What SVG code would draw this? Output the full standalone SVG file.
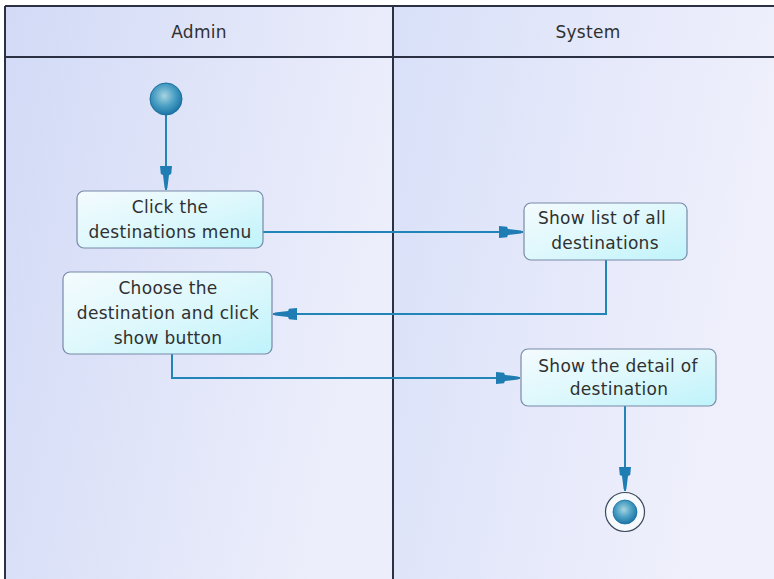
<svg xmlns="http://www.w3.org/2000/svg" width="774" height="579" viewBox="0 0 774 579">
  <defs>
    <linearGradient id="laneA" x1="0" y1="0" x2="1" y2="0.3">
      <stop offset="0" stop-color="#d2daf6"/>
      <stop offset="1" stop-color="#eceefb"/>
    </linearGradient>
    <linearGradient id="laneB" x1="0" y1="0" x2="1" y2="0.3">
      <stop offset="0" stop-color="#d8e0f8"/>
      <stop offset="1" stop-color="#f0f0fc"/>
    </linearGradient>
    <linearGradient id="actFill" x1="0" y1="0" x2="1" y2="1">
      <stop offset="0" stop-color="#f4fbfe"/>
      <stop offset="0.5" stop-color="#def8fc"/>
      <stop offset="1" stop-color="#bff3fb"/>
    </linearGradient>
    <radialGradient id="dot" cx="0.45" cy="0.4" r="0.6">
      <stop offset="0" stop-color="#a8d4e0"/>
      <stop offset="0.55" stop-color="#4a9fc4"/>
      <stop offset="1" stop-color="#1a74a6"/>
    </radialGradient>
    <marker id="head" viewBox="0 0 24 14" refX="24" refY="7" markerWidth="24" markerHeight="14" markerUnits="userSpaceOnUse" orient="auto">
      <polygon points="0,1 8,1.8 9,4 22,5.6 24,7 22,8.4 9,10 8,12.2 0,13" fill="#1f7db3"/>
    </marker>
    <style>
      .lane-line { stroke: #2b3142; stroke-width: 2; fill: none; }
      .act { fill: url(#actFill); stroke: #7989a8; stroke-width: 1.2; }
      .lbl { font-family: "DejaVu Sans", Verdana, sans-serif; font-size: 17px; letter-spacing: 0.3px; fill: #303030; text-anchor: middle; }
      .flow { stroke: #2186b7; stroke-width: 2; fill: none; marker-end: url(#head); }
    </style>
  </defs>

  <rect width="774" height="579" fill="#ffffff"/>

  <!-- swimlanes -->
  <g id="lanes">
    <rect x="5" y="6" width="388" height="573" fill="url(#laneA)"/>
    <rect x="393" y="6" width="381" height="573" fill="url(#laneB)"/>
    <path class="lane-line" d="M5 6 H774 M5 57 H774 M5 6 V579 M393 6 V579"/>
    <text id="lane-admin" class="lbl" x="199" y="37.5">Admin</text>
    <text id="lane-system" class="lbl" x="588" y="37.5">System</text>
  </g>

  <!-- connectors -->
  <g id="connectors">
    <path class="flow" d="M166 115 V190"/>
    <path class="flow" d="M263 232 H523"/>
    <path class="flow" d="M606 260 V314 H273"/>
    <path class="flow" d="M172 354 V378 H520"/>
    <path class="flow" d="M625 406 V491"/>
  </g>

  <g id="start">
    <circle cx="166" cy="99" r="16" fill="url(#dot)" stroke="#1d6f9c" stroke-width="1"/>
  </g>

  <g id="click-menu">
    <rect class="act" x="77" y="191" width="186" height="57" rx="7"/>
    <text class="lbl" x="170" y="213">Click the</text>
    <text class="lbl" x="170" y="238">destinations menu</text>
  </g>

  <g id="show-list">
    <rect class="act" x="524" y="203" width="163" height="57" rx="7"/>
    <text class="lbl" x="602" y="224">Show list of all</text>
    <text class="lbl" x="605" y="249">destinations</text>
  </g>

  <g id="choose-destination">
    <rect class="act" x="63" y="272" width="209" height="82" rx="7"/>
    <text class="lbl" x="168" y="294">Choose the</text>
    <text class="lbl" x="168" y="319">destination and click</text>
    <text class="lbl" x="168" y="344">show button</text>
  </g>

  <g id="show-detail">
    <rect class="act" x="521" y="349" width="195" height="57" rx="7"/>
    <text class="lbl" x="618" y="372">Show the detail of</text>
    <text class="lbl" x="619" y="395">destination</text>
  </g>

  <g id="end">
    <circle cx="625" cy="512" r="19.5" fill="#f6fafe" stroke="#3a4a5a" stroke-width="1.2"/>
    <circle cx="625" cy="512" r="12" fill="url(#dot)" stroke="#1d6f9c" stroke-width="0.8"/>
  </g>
</svg>
